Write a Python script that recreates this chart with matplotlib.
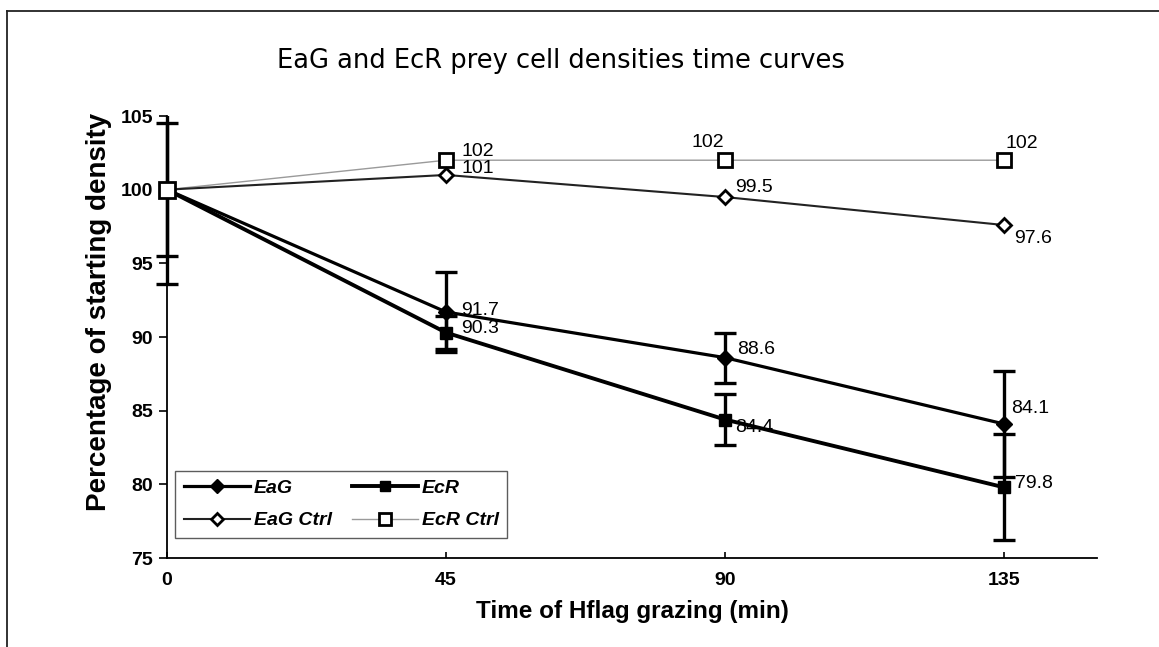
import numpy as np
import matplotlib.pyplot as plt
from matplotlib.lines import Line2D
from matplotlib.transforms import Bbox, TransformedBbox

# data
t = [0, 45, 90, 135]
eag = [100, 91.7, 88.6, 84.1]
eag_err = [4.5, 2.7, 1.7, 3.6]
ecr = [100, 90.3, 84.4, 79.8]
ecr_err = [6.4, 1.1, 1.7, 3.6]
eag_ctrl = [100, 101, 99.5, 97.6]
ecr_ctrl = [100, 102, 102, 102]

lab_eag = ['', '91.7', '88.6', '84.1']
lab_ecr = ['', '90.3', '84.4', '79.8']
lab_eagc = ['', '101', '99.5', '97.6']
lab_ecrc = ['', '102', '102', '102']

plt.rcParams['font.family'] = ['Liberation Sans', 'DejaVu Sans']

fig = plt.figure(figsize=(11.59, 6.47), dpi=100)
ax = fig.add_axes([0.1441, 0.1375, 0.8024, 0.6832])

# error bars: clipped at top/bottom of the axes but not on the left
clipbox = TransformedBbox(Bbox([[-0.05, 0], [1.05, 1]]), ax.transAxes)
for yy, ee in [(eag, eag_err), (ecr, ecr_err)]:
    eb = ax.errorbar(t, yy, yerr=ee, fmt='none', ecolor='black', elinewidth=2.4,
                     capsize=8, capthick=2.4, zorder=2)
    for art in eb.get_children():
        art.set_clip_box(clipbox)
        art.set_clip_path(None)

ax.plot(t, ecr_ctrl, '-', color='#9a9a9a', lw=1.0, marker='s', ms=10,
        mfc='white', mec='black', mew=2, label='EcR Ctrl', zorder=3)
ax.plot(t, eag_ctrl, '-', color='#222222', lw=1.5, marker='D', ms=7,
        mfc='white', mec='black', mew=2, label='EaG Ctrl', zorder=3)
ax.plot(t, eag, '-', color='black', lw=2.3, marker='D', ms=8,
        mfc='black', mec='black', label='EaG', zorder=4)
ax.plot(t, ecr, '-', color='black', lw=2.8, marker='s', ms=9,
        mfc='black', mec='black', label='EcR', zorder=4)

# the common start point shows as an open square
ax.plot([t[0]], [ecr_ctrl[0]], 's', ms=11, mfc='white', mec='black', mew=2,
        zorder=5, clip_on=False)

# label offsets (points) as placed in the reference
offsets = {
    ('eag', 1): (11, 1), ('eag', 2): (9, 6), ('eag', 3): (5, 11),
    ('ecr', 1): (11, 3), ('ecr', 2): (7, -6), ('ecr', 3): (8, 3),
    ('eagc', 1): (11, 5), ('eagc', 2): (7, 7), ('eagc', 3): (7, -10),
    ('ecrc', 1): (11, 6), ('ecrc', 2): (-24, 13), ('ecrc', 3): (1, 12),
}
for key, yy, labs in [('eag', eag, lab_eag), ('ecr', ecr, lab_ecr),
                      ('eagc', eag_ctrl, lab_eagc), ('ecrc', ecr_ctrl, lab_ecrc)]:
    for i, (x, y, s) in enumerate(zip(t, yy, labs)):
        if s:
            ax.annotate(s, (x, y), xytext=offsets[(key, i)], textcoords='offset points',
                        fontsize=14, ha='left', va='center', zorder=6)

ax.set_xlim(0, 150)
ax.set_ylim(75, 105)
ax.set_xticks([0, 45, 90, 135])
ax.set_yticks([75, 80, 85, 90, 95, 100, 105])
ax.tick_params(axis='x', labelsize=14, direction='in', length=4, width=1.2, pad=10)
ax.tick_params(axis='y', labelsize=14, direction='out', length=6, width=1.2, pad=4)
for lbl in ax.get_xticklabels() + ax.get_yticklabels():
    lbl.set_fontweight('bold')
ax.spines['top'].set_visible(False)
ax.spines['right'].set_visible(False)
ax.spines['left'].set_linewidth(1.3)
ax.spines['bottom'].set_linewidth(1.3)

ax.set_xlabel('Time of Hflag grazing (min)', fontsize=17.5, fontweight='bold', labelpad=8)
ax.set_ylabel('Percentage of starting density', fontsize=20, fontweight='bold')
ax.yaxis.set_label_coords(-0.059, 0.557)
fig.text(0.484, 0.905, 'EaG and EcR prey cell densities time curves',
         fontsize=18.5, ha='center', va='center', family='DejaVu Sans')

handles, labels = ax.get_legend_handles_labels()
order = [2, 1, 3, 0]
leg = ax.legend([handles[i] for i in order], [labels[i] for i in order],
                ncol=2, loc='lower left', bbox_to_anchor=(0.009, 0.045),
                borderaxespad=0,
                prop={'weight': 'bold', 'style': 'italic', 'size': 14},
                frameon=True, fancybox=False, edgecolor='#333333',
                handlelength=3.4, columnspacing=1.0, borderpad=0.45,
                labelspacing=0.75, handletextpad=0.2, markerscale=0.85)
leg.get_frame().set_linewidth(1.0)

# scanned page frame: top and left edges
fig.lines.append(Line2D([0.006, 1.0], [0.983, 0.983], transform=fig.transFigure,
                        color='#222222', lw=1.3))
fig.lines.append(Line2D([0.006, 0.006], [0.0, 0.983], transform=fig.transFigure,
                        color='#222222', lw=1.3))

fig.savefig('out.png', dpi=100)
